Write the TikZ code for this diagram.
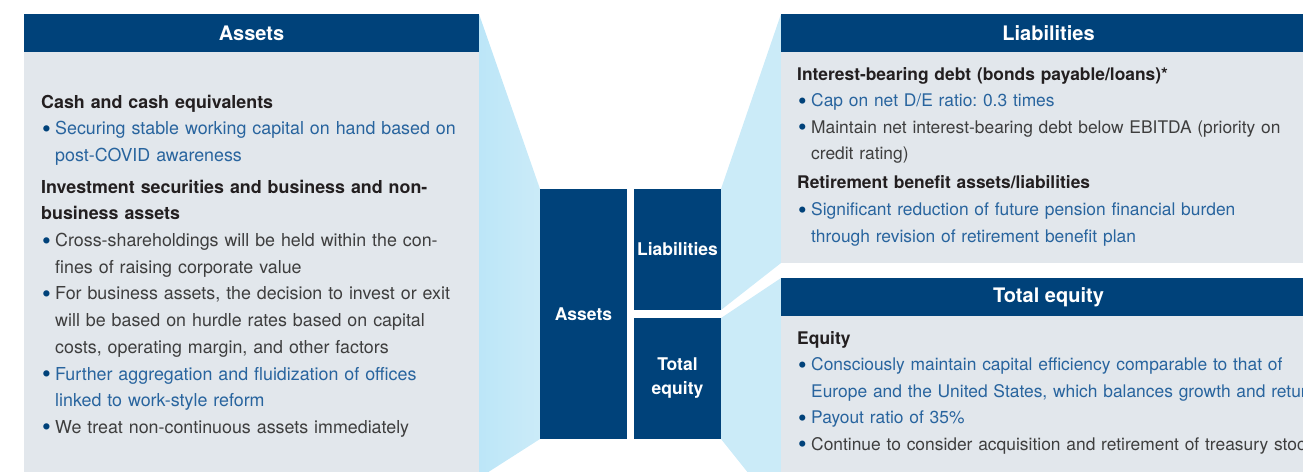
\documentclass[tikz,border=0pt]{standalone}
\usepackage{fontspec}
\setmainfont{TeX Gyre Heros}
\usepackage{tikz}
\usetikzlibrary{positioning, backgrounds}
\usepackage{xcolor}
\definecolor{navycolor}{RGB}{0,66,122}
\definecolor{panelcolor}{RGB}{226,231,236}
\definecolor{funnelcolor}{RGB}{203,235,248}
\definecolor{funneldark}{RGB}{188,230,248}
\definecolor{headtext}{RGB}{35,31,32}
\definecolor{graytext}{RGB}{62,62,62}
\definecolor{bluetext}{RGB}{40,100,158}

\newcommand{\sectitle}[1]{{\bfseries\color{headtext}#1}}
\newcommand{\bulline}[1]{\makebox[14pt][l]{\hspace{1pt}\textcolor{navycolor}{\raisebox{-2.5pt}{\scalebox{1.4}{\textbullet}}}}{#1}}
\newcommand{\contline}[1]{\hspace*{14pt}{#1}}
\newcommand{\bl}{\color{bluetext}}
\frenchspacing

\begin{document}
\begin{tikzpicture}[x=1pt, y=-1pt,
    headbar/.style={rectangle, fill=navycolor, anchor=north west, inner sep=0pt, outer sep=0pt, minimum height=38pt, text=white, font=\fontsize{20}{24}\selectfont\bfseries},
    bodybox/.style={rectangle, fill=panelcolor, anchor=north west, inner sep=0pt, outer sep=0pt},
    midbox/.style={rectangle, fill=navycolor, anchor=north west, inner sep=0pt, outer sep=0pt, minimum width=87pt, text=white, align=center, font=\fontsize{17.5}{24}\selectfont\bfseries},
    bodytext/.style={anchor=base west, inner sep=0pt, align=left, text=graytext, font=\fontsize{17.85}{26.7}\selectfont\frenchspacing}
]
\useasboundingbox (0,0) rectangle (1303,471);
\clip (0,0) rectangle (1303,471);

% panels
\node[headbar, minimum width=455pt] (asshead) at (24,14) {Assets};
\node[bodybox, minimum width=455pt, minimum height=426pt] (assbody) at (24,52) {};
\node[headbar, minimum width=535pt] (libhead) at (781,14) {Liabilities};
\node[bodybox, minimum width=535pt, minimum height=211pt] (libbody) at (781,52) {};
\node[headbar, minimum width=535pt] (eqhead) at (781,278) {Total equity};
\node[bodybox, minimum width=535pt, minimum height=198pt] (eqbody) at (781,316) {};

% balance sheet blocks
\node[midbox, minimum height=250pt] (assbox) at (540,189) {Assets};
\node[midbox, minimum height=121pt] (libbox) at (634,189) {Liabilities};
\node[midbox, minimum height=121pt] (eqbox) at (634,318) {Total\\equity};

% funnels
\begin{scope}[on background layer]
\shade[left color=funneldark, right color=funnelcolor] (asshead.north east) -- (assbox.north west) -- (assbox.south west) -- (assbody.south east) -- cycle;
\fill[funnelcolor] (libbox.north east) -- (libhead.north west) -- (libbody.south west) -- (libbox.south east) -- cycle;
\fill[funnelcolor] (eqbox.north east) -- (eqhead.north west) -- (eqbody.south west) -- (eqbox.south east) -- cycle;
\end{scope}

% texts
\node[bodytext, text width=430pt] (asstext) at (41,108) {%
\sectitle{Cash and cash equivalents}\\
\bulline{\bl Securing stable working capital on hand based on}\\
\contline{\bl post-COVID awareness}\\[5pt]
\sectitle{Investment securities and business and non-}\\
\sectitle{business assets}\\
\bulline{Cross-shareholdings will be held within the con-}\\
\contline{fines of raising corporate value}\\
\bulline{For business assets, the decision to invest or exit}\\
\contline{will be based on hurdle rates based on capital}\\
\contline{costs, operating margin, and other factors}\\
\bulline{\bl Further aggregation and fluidization of offices}\\
\contline{\bl linked to work-style reform}\\
\bulline{We treat non-continuous assets immediately}};

\node[bodytext, text width=600pt, font=\fontsize{17.4}{26.6}\selectfont] (libtext) at (797,80) {%
\sectitle{Interest-bearing debt (bonds payable/loans)*}\\
\bulline{\bl Cap on net D/E ratio: 0.3 times}\\
\bulline{Maintain net interest-bearing debt below EBITDA (priority on}\\
\contline{credit rating)}\\[2.5pt]
\sectitle{Retirement benefit assets/liabilities}\\
\bulline{\bl Significant reduction of future pension financial burden}\\
\contline{\bl through revision of retirement benefit plan}};

\node[bodytext, text width=600pt, font=\fontsize{17.4}{26.5}\selectfont] (eqtext) at (797,344) {%
\sectitle{Equity}\\
\bulline{\bl Consciously maintain capital efficiency comparable to that of}\\
\contline{\bl Europe and the United States, which balances growth and return}\\
\bulline{\bl Payout ratio of 35\%}\\
\bulline{Continue to consider acquisition and retirement of treasury stock}};
\end{tikzpicture}
\end{document}
